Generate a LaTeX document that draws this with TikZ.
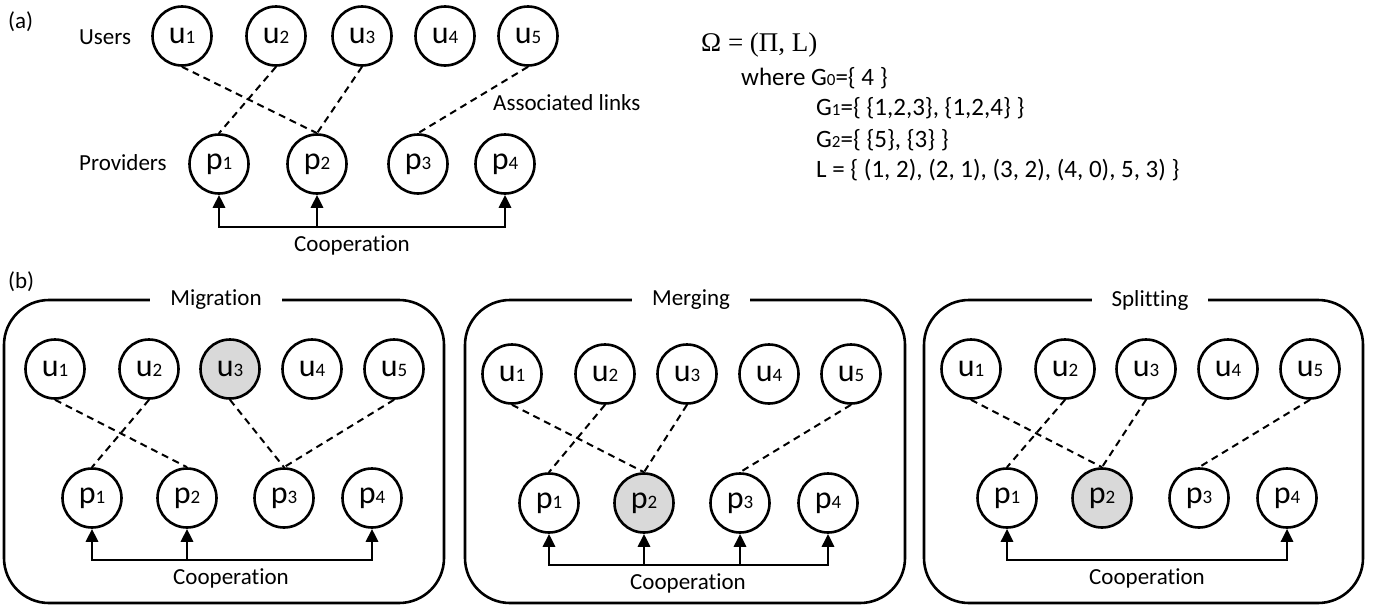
\documentclass[tikz,border=0pt]{standalone}
\usepackage{fontspec}
\setmainfont{Carlito}[Ligatures={NoCommon,NoContextual}]
\newfontfamily\serifface{Liberation Serif}
\usetikzlibrary{arrows.meta}
\definecolor{hl}{RGB}{217,217,217}
\newcommand\nl[2]{{\fontsize{32}{32}\selectfont #1}{\fontsize{19}{19}\selectfont #2}}
\newcommand\sm[1]{{\fontsize{17}{17}\selectfont #1}}
\newcommand\coopword{Cooperat\kern0pt ion}
\tikzset{
  ent/.style={circle,draw,line width=2.6pt,minimum size=59pt,inner sep=0pt},
  assoc/.style={line width=2pt,dash pattern=on 7pt off 5pt},
  coop/.style={line width=2.8pt,line cap=rect},
  coopar/.style={line width=2.8pt,-{Triangle[length=13pt,width=12pt]}},
  txt/.style={font=\fontsize{23}{23}\selectfont,inner sep=0pt},
  ftxt/.style={font=\fontsize{25}{25}\selectfont,inner sep=0pt,anchor=west},
  panel/.style={draw,line width=2.6pt,rounded corners=45pt},
  ptitle/.style={fill=white,inner xsep=20pt,inner ysep=2pt,font=\fontsize{23}{23}\selectfont},
}
\begin{document}
\begin{tikzpicture}[x=1pt,y=-1pt]
\useasboundingbox (0,0) rectangle (1383,608);

% ---------- (a) ----------
\node[txt,anchor=west] (la) at (8,22) {(a)};
\node[txt,anchor=west] (users) at (79,37) {Users};
\node[txt,anchor=west] (prov) at (79,163) {Providers};
\foreach \i/\x in {1/182,2/276,3/362,4/445,5/528}
  \node[ent] (a-u\i) at (\x,36) {\nl{u}{\i}};
\foreach \i/\x in {1/219,2/317,3/418,4/505}
  \node[ent] (a-p\i) at (\x,164) {\nl{p}{\i}};
\draw[assoc] (a-u1.south) -- (a-p2.north);
\draw[assoc] (a-u2.south) -- (a-p1.north);
\draw[assoc] (a-u3.south) -- (a-p2.north);
\draw[assoc] (a-u5.south) -- (a-p3.north);
\coordinate (a-c) at (0,227);
\draw[coop] (a-p1 |- a-c) -- (a-p4 |- a-c);
\foreach \i in {1,2,4} \draw[coopar] (a-p\i |- a-c) -- (a-p\i.south);
\node[txt] (a-coop) at (352,245) {\coopword};
\node[txt,anchor=west] (alinks) at (493,103) {Associated links};

% ---------- formula ----------
\node[anchor=west,inner sep=0pt,font=\serifface\fontsize{27}{27}\selectfont] (om) at (701,45) {Ω = (Π, L)};
\node[ftxt] (f0) at (741,78) {where G\sm{0}=\{ 4 \}};
\node[ftxt] (f1) at (816,108) {G\sm{1}=\{ \{1,2,3\}, \{1,2,4\} \}};
\node[ftxt] (f2) at (816,140) {G\sm{2}=\{ \{5\}, \{3\} \}};
\node[ftxt] (f3) at (816,170) {L = \{ (1, 2), (2, 1), (3, 2), (4, 0), 5, 3) \}};

% ---------- (b) ----------
\node[txt,anchor=west] (lb) at (8,282) {(b)};

% Migration
\draw[panel] (4,300) rectangle (444,603);
\node[ptitle] (m-t) at (216,300) {Migrat\kern0pt ion};
\foreach \i/\x in {1/55,2/149,4/312,5/394}
  \node[ent] (m-u\i) at (\x,369) {\nl{u}{\i}};
\node[ent,fill=hl] (m-u3) at (230,369) {\nl{u}{3}};
\foreach \i/\x in {1/92,2/187,3/284,4/372}
  \node[ent] (m-p\i) at (\x,498) {\nl{p}{\i}};
\draw[assoc] (m-u1.south) -- (m-p2.north);
\draw[assoc] (m-u2.south) -- (m-p1.north);
\draw[assoc] (m-u3.south) -- (m-p3.north);
\draw[assoc] (m-u5.south) -- (m-p3.north);
\coordinate (m-c) at (0,560);
\draw[coop] (m-p1 |- m-c) -- (m-p4 |- m-c);
\foreach \i in {1,2,4} \draw[coopar] (m-p\i |- m-c) -- (m-p\i.south);
\node[txt] (m-coop) at (231,578) {\coopword};

% Merging
\draw[panel] (465,300) rectangle (905,603);
\node[ptitle] (g-t) at (691,300) {Merging};
\foreach \i/\x in {1/512,2/605,3/687,4/769,5/851}
  \node[ent] (g-u\i) at (\x,374) {\nl{u}{\i}};
\foreach \i/\x in {1/549,3/740,4/828}
  \node[ent] (g-p\i) at (\x,503) {\nl{p}{\i}};
\node[ent,fill=hl] (g-p2) at (644,503) {\nl{p}{2}};
\draw[assoc] (g-u1.south) -- (g-p2.north);
\draw[assoc] (g-u2.south) -- (g-p1.north);
\draw[assoc] (g-u3.south) -- (g-p2.north);
\draw[assoc] (g-u5.south) -- (g-p3.north);
\coordinate (g-c) at (0,565);
\draw[coop] (g-p1 |- g-c) -- (g-p4 |- g-c);
\foreach \i in {1,2,3,4} \draw[coopar] (g-p\i |- g-c) -- (g-p\i.south);
\node[txt] (g-coop) at (688,583) {\coopword};

% Splitting
\draw[panel] (924,300) rectangle (1363,603);
\node[ptitle] (s-t) at (1150,300) {Spli\kern0pt t\kern0pt t\kern0pt ing};
\foreach \i/\x in {1/971,2/1065,3/1146,4/1228,5/1310}
  \node[ent] (s-u\i) at (\x,369) {\nl{u}{\i}};
\foreach \i/\x in {1/1007,3/1199,4/1287}
  \node[ent] (s-p\i) at (\x,498) {\nl{p}{\i}};
\node[ent,fill=hl] (s-p2) at (1102,498) {\nl{p}{2}};
\draw[assoc] (s-u1.south) -- (s-p2.north);
\draw[assoc] (s-u2.south) -- (s-p1.north);
\draw[assoc] (s-u3.south) -- (s-p2.north);
\draw[assoc] (s-u5.south) -- (s-p3.north);
\coordinate (s-c) at (0,560);
\draw[coop] (s-p1 |- s-c) -- (s-p4 |- s-c);
\foreach \i in {1,4} \draw[coopar] (s-p\i |- s-c) -- (s-p\i.south);
\node[txt] (s-coop) at (1147,578) {\coopword};
\end{tikzpicture}
\end{document}
